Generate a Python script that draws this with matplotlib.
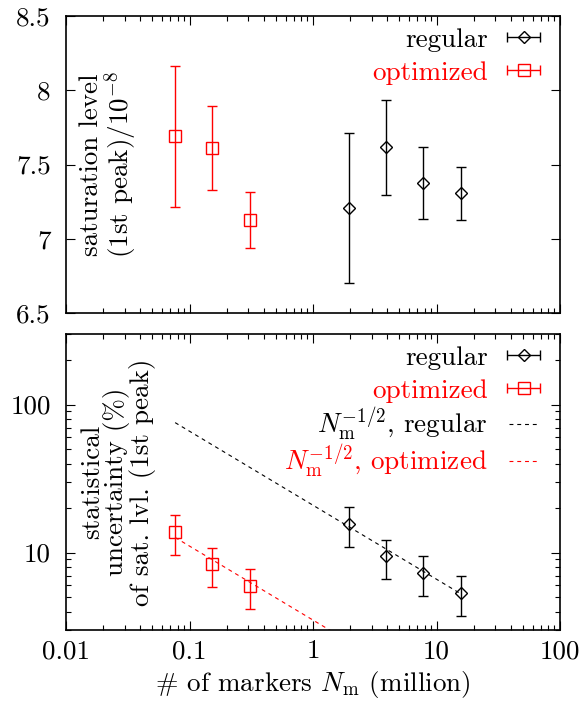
import numpy as np
import matplotlib
matplotlib.use('Agg')
import matplotlib.pyplot as plt
from matplotlib.container import ErrorbarContainer
from matplotlib.legend_handler import HandlerErrorbar
from matplotlib.ticker import FixedLocator, NullFormatter, LogLocator, FixedFormatter

plt.rcParams['font.family'] = ['cmr10', 'DejaVu Serif']
plt.rcParams['mathtext.fontset'] = 'cm'
plt.rcParams['axes.unicode_minus'] = False
plt.rcParams['axes.formatter.use_mathtext'] = True
plt.rcParams['font.size'] = 19.5

# ---------------- data ----------------
reg_n = [1.96, 3.92, 7.84, 15.68]          # million markers (regular)
opt_n = [0.0765, 0.153, 0.307]             # million markers (optimized)

reg_sat = [7.21, 7.615, 7.375, 7.305]
reg_sat_err = [0.505, 0.32, 0.24, 0.176]
opt_sat = [7.69, 7.61, 7.125]
opt_sat_err = [0.474, 0.285, 0.19]

reg_unc = [15.6, 9.42, 7.3, 5.36]
reg_unc_err = [4.65, 2.8, 2.2, 1.62]
opt_unc = [13.8, 8.34, 5.95]
opt_unc_err = [4.1, 2.45, 1.8]

coef_reg = 20.9    # N^-1/2 prefactor, regular
coef_opt = 3.5     # N^-1/2 prefactor, optimized

x_ticks = [0.01, 0.1, 1, 10, 100]
x_tick_labels = ['0.01', '0.1', '1', '10', '100']
sat_ticks = [6.5, 7, 7.5, 8, 8.5]
sat_tick_labels = ['6.5', '7', '7.5', '8', '8.5']
unc_ticks = [10, 100]
unc_tick_labels = ['10', '100']

RED = '#ff0000'
BLK = '#000000'

fig = plt.figure(figsize=(5.82, 7.05), dpi=100)
ax1 = fig.add_axes([66/582, 1-313/705, 494/582, 297/705])
ax2 = fig.add_axes([66/582, 1-630/705, 494/582, 296/705])

eb_kw = dict(mfc='none', mew=1.0, elinewidth=1.0, capsize=3.6, capthick=1.0,
             linestyle='none')
D_MS = 6.0
S_MS = 8.4

# ---------------- top panel ----------------
eb_reg1 = ax1.errorbar(reg_n, reg_sat, yerr=reg_sat_err, marker='D', ms=D_MS,
                       color=BLK, mec=BLK, ecolor=BLK, **eb_kw)
eb_opt1 = ax1.errorbar(opt_n, opt_sat, yerr=opt_sat_err, marker='s', ms=S_MS,
                       color=RED, mec=RED, ecolor=RED, **eb_kw)

# ---------------- bottom panel ----------------
eb_reg2 = ax2.errorbar(reg_n, reg_unc, yerr=reg_unc_err, marker='D', ms=D_MS,
                       color=BLK, mec=BLK, ecolor=BLK, **eb_kw)
eb_opt2 = ax2.errorbar(opt_n, opt_unc, yerr=opt_unc_err, marker='s', ms=S_MS,
                       color=RED, mec=RED, ecolor=RED, **eb_kw)

xf = np.geomspace(opt_n[0], reg_n[-1], 300)
ln_reg, = ax2.plot(xf, coef_reg * xf ** -0.5, color=BLK, lw=0.8, dashes=(3.5, 3.5))
ln_opt, = ax2.plot(xf, coef_opt * xf ** -0.5, color=RED, lw=0.8, dashes=(3.5, 3.5))

# ---------------- axes styling ----------------
for ax in (ax1, ax2):
    ax.set_xscale('log')
    ax.set_xlim(0.01, 100)
    ax.xaxis.set_major_locator(FixedLocator(x_ticks))
    ax.xaxis.set_minor_locator(LogLocator(base=10, subs=np.arange(2, 10)))
    ax.xaxis.set_minor_formatter(NullFormatter())
    ax.tick_params(which='both', direction='in', top=True, right=True, width=0.8)
    ax.tick_params(which='major', length=6.5)
    ax.tick_params(which='minor', length=3.3)
    ax.tick_params(axis='x', pad=7)
    ax.tick_params(axis='y', pad=11)
    for s in ax.spines.values():
        s.set_linewidth(1.2)

ax1.xaxis.set_major_formatter(NullFormatter())
ax1.set_ylim(6.5, 8.5)
ax1.yaxis.set_major_locator(FixedLocator(sat_ticks))
ax1.yaxis.set_major_formatter(FixedFormatter(sat_tick_labels))

ax2.xaxis.set_major_formatter(FixedFormatter(x_tick_labels))
ax2.set_yscale('log')
ax2.set_ylim(3, 300)
ax2.yaxis.set_major_locator(FixedLocator(unc_ticks))
ax2.yaxis.set_major_formatter(FixedFormatter(unc_tick_labels))
ax2.yaxis.set_minor_locator(LogLocator(base=10, subs=np.arange(2, 10)))
ax2.yaxis.set_minor_formatter(NullFormatter())

# axis labels (inside the plot area, like the original)
ax1.text(0.087, 0.5, "saturation level\n(1st peak)/$10^{-8}$", rotation=90,
         ha='center', va='center', multialignment='center',
         transform=ax1.transAxes, linespacing=0.95)
ax2.text(0.106, 0.5, "statistical\nuncertainty (%)\nof sat. lvl. (1st peak)",
         rotation=90, ha='center', va='center', multialignment='center',
         transform=ax2.transAxes, linespacing=0.95)
ax2.set_xlabel(r"# of markers $N_\mathrm{m}$ (million)", labelpad=4)

# ---------------- legends ----------------
hmap = {ErrorbarContainer: HandlerErrorbar(xerr_size=0.6)}

def xerr_proxy(eb):
    return ErrorbarContainer(eb.lines, has_xerr=True, has_yerr=False)

leg_kw = dict(loc='upper right', frameon=False, markerfirst=False,
              handlelength=1.06, handletextpad=0.8, borderpad=0,
              borderaxespad=0, numpoints=1, handler_map=hmap)

leg1 = ax1.legend([xerr_proxy(eb_reg1), xerr_proxy(eb_opt1)],
                  ['regular', 'optimized'], labelspacing=0.32,
                  bbox_to_anchor=(472/494, 1 - 12/297), **leg_kw)
for t, c in zip(leg1.get_texts(), [BLK, RED]):
    t.set_color(c)

leg2a = ax2.legend([xerr_proxy(eb_reg2), xerr_proxy(eb_opt2)],
                   ['regular', 'optimized'], labelspacing=0.32,
                   bbox_to_anchor=(472/494, 1 - 12/296), **leg_kw)
for t, c in zip(leg2a.get_texts(), [BLK, RED]):
    t.set_color(c)
ax2.add_artist(leg2a)

leg2b = ax2.legend([ln_reg, ln_opt],
                   [r'$N_\mathrm{m}^{-1/2}$, regular',
                    r'$N_\mathrm{m}^{-1/2}$, optimized'], labelspacing=-0.05,
                   bbox_to_anchor=(472/494, 1 - 72/296), **leg_kw)
for t, c in zip(leg2b.get_texts(), [BLK, RED]):
    t.set_color(c)

fig.savefig('out.png', dpi=100)
